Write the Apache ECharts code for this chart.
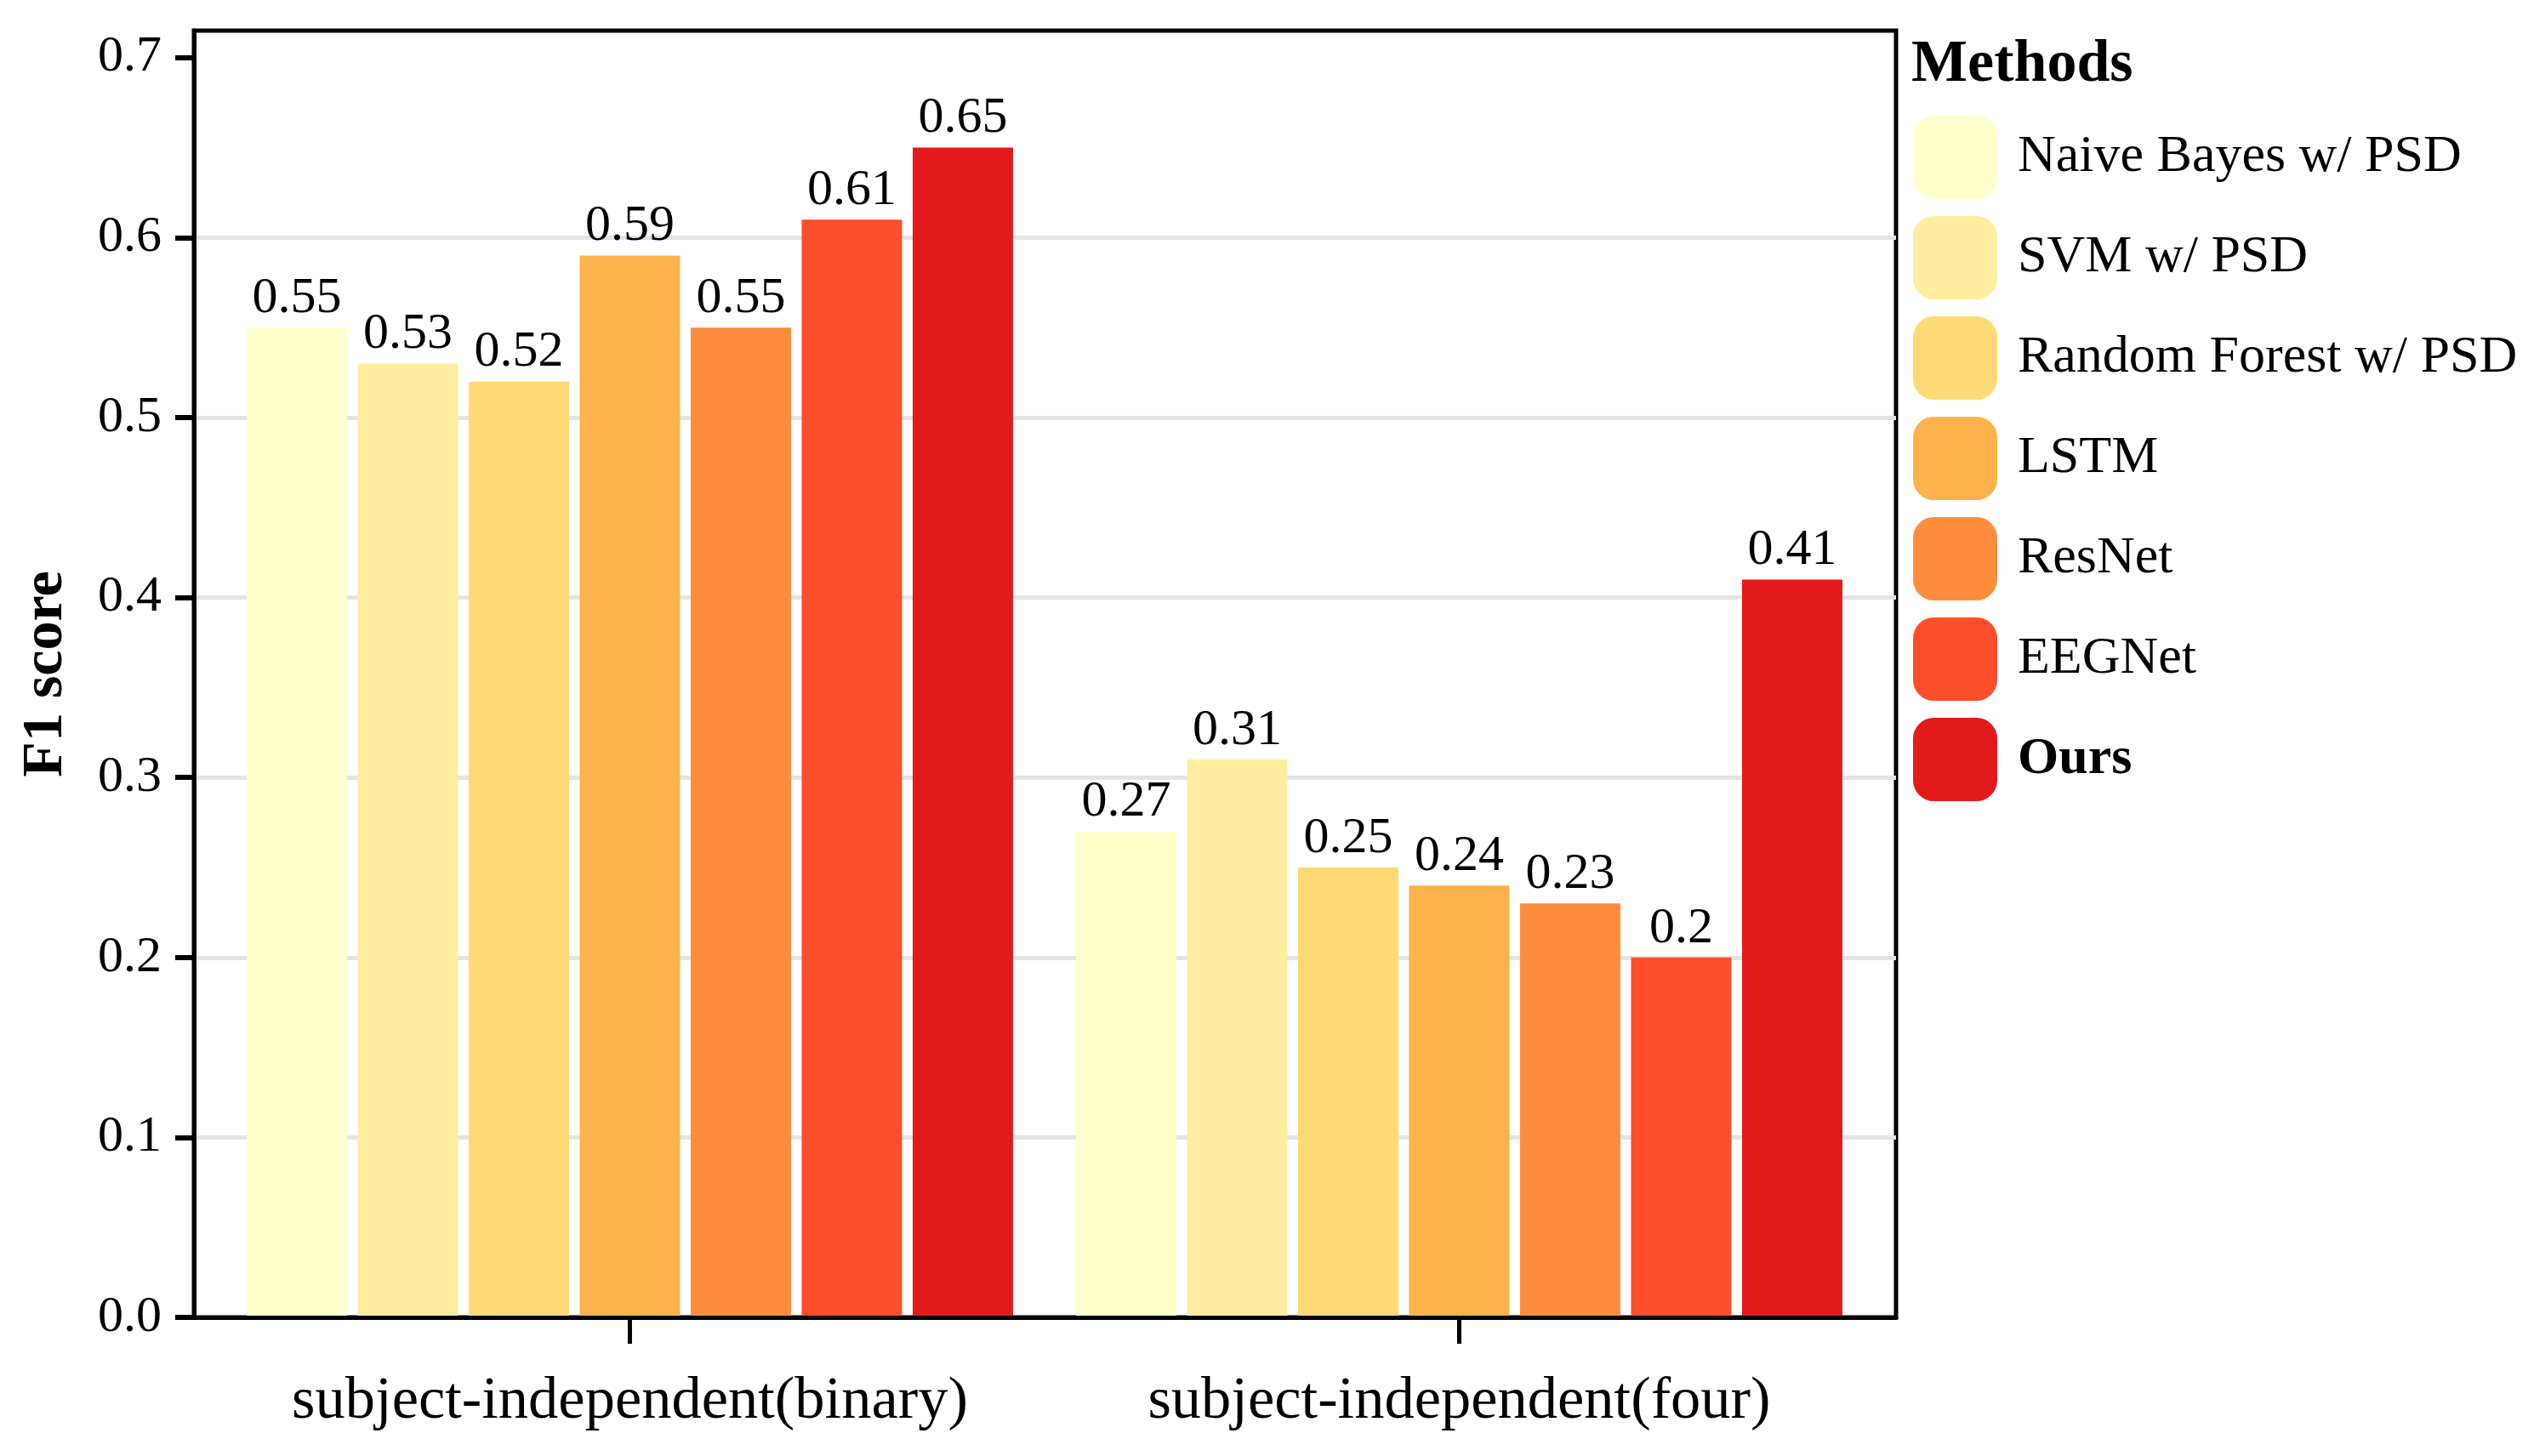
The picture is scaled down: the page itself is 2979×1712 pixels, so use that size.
<!DOCTYPE html>
<html>
<head>
<meta charset="utf-8">
<script src="https://cdn.jsdelivr.net/npm/echarts@6/dist/echarts.min.js"></script>
<style>
html,body{margin:0;padding:0;background:#fff;}
#chart{width:2979px;height:1712px;}
</style>
</head>
<body>
<div id="chart"></div>
<script>
const categories = ['subject-independent(binary)', 'subject-independent(four)'];
const methods = ['Naive Bayes w/ PSD', 'SVM w/ PSD', 'Random Forest w/ PSD', 'LSTM', 'ResNet', 'EEGNet', 'Ours'];
const binaryScores = [0.55, 0.53, 0.52, 0.59, 0.55, 0.61, 0.65];
const fourScores = [0.27, 0.31, 0.25, 0.24, 0.23, 0.20, 0.41];
const colors = ['#ffffcc', '#ffeda0', '#fed976', '#feb24c', '#fd8d3c', '#fc4e2a', '#e31a1c'];
const yTicks = [0, 0.1, 0.2, 0.3, 0.4, 0.5, 0.6, 0.7];
const yTickLabels = ['0.0', '0.1', '0.2', '0.3', '0.4', '0.5', '0.6', '0.7'];
const yMax = 0.715;

const FONT = '"Liberation Serif", "Times New Roman", serif';
const chart = echarts.init(document.getElementById('chart'), null, {renderer: 'canvas'});

const series = methods.map((m, i) => ({
  name: m,
  type: 'bar',
  xAxisIndex: 1,
  yAxisIndex: 1,
  data: [binaryScores[i], fourScores[i]],
  itemStyle: {color: colors[i]},
  barGap: '10.6%',
  barCategoryGap: '7.6%',
  label: {
    show: true,
    position: 'top',
    distance: 4,
    color: '#000',
    fontFamily: FONT,
    fontSize: 60
  },
  emphasis: {disabled: true}
}));

const TOP = 36, BOTTOM = 163;

chart.setOption({
  animation: false,
  backgroundColor: '#fff',
  color: colors,
  grid: [
    {left: 228, right: 750, top: TOP, bottom: BOTTOM,
     show: true, borderColor: '#000', borderWidth: 5, backgroundColor: 'transparent'},
    {left: 253, right: 776, top: TOP, bottom: BOTTOM, show: false}
  ],
  graphic: [{
    type: 'text',
    left: 2247,
    top: 42,
    style: {text: 'Methods', font: 'bold 70px ' + FONT, fill: '#000'}
  }],
  legend: {
    orient: 'vertical',
    left: 2244,
    top: 131,
    itemWidth: 99,
    itemHeight: 98,
    itemGap: 20,
    icon: 'roundRect',
    data: methods,
    selectedMode: false,
    formatter: n => n === 'Ours' ? '{b|' + n + '}' : '{n|' + n + '}',
    textStyle: {
      fontFamily: FONT,
      fontSize: 62,
      color: '#000',
      padding: [0, 0, 0, 19],
      rich: {
        n: {fontFamily: FONT, fontSize: 62, color: '#000'},
        b: {fontFamily: FONT, fontSize: 62, fontWeight: 'bold', color: '#000'}
      }
    }
  },
  xAxis: [
    {
      gridIndex: 0,
      type: 'value',
      min: 0, max: 1,
      z: 10,
      axisLine: {show: true, onZero: false, lineStyle: {color: '#000', width: 5}},
      axisTick: {show: false},
      axisLabel: {show: false},
      splitLine: {show: false}
    },
    {
      gridIndex: 1,
      type: 'category',
      data: categories,
      axisLine: {show: false},
      axisTick: {show: true, alignWithLabel: true, interval: 0, length: 31, lineStyle: {color: '#000', width: 5}},
      axisLabel: {fontFamily: FONT, fontSize: 70.5, color: '#000', margin: 64, interval: 0},
      splitLine: {show: false}
    }
  ],
  yAxis: [
    {
      gridIndex: 0,
      type: 'value',
      min: 0,
      max: yMax,
      interval: 0.1,
      name: 'F1 score',
      nameLocation: 'middle',
      nameRotate: 90,
      nameGap: 140,
      nameTextStyle: {fontFamily: FONT, fontSize: 68, fontWeight: 'bold', color: '#000'},
      axisLine: {show: true, lineStyle: {color: '#000', width: 5}},
      axisTick: {show: true, length: 22, lineStyle: {color: '#000', width: 6}, customValues: yTicks},
      axisLabel: {
        fontFamily: FONT, fontSize: 60, color: '#000', margin: 38,
        customValues: yTicks,
        formatter: v => {
          const idx = yTicks.findIndex(t => Math.abs(t - v) < 1e-9);
          return idx >= 0 ? yTickLabels[idx] : '';
        }
      },
      splitLine: {show: true, showMinLine: false, showMaxLine: false, lineStyle: {color: '#e4e4e4', width: 5}}
    },
    {
      gridIndex: 1,
      type: 'value',
      min: 0,
      max: yMax,
      interval: 0.1,
      axisLine: {show: false},
      axisTick: {show: false},
      axisLabel: {show: false},
      splitLine: {show: false}
    }
  ],
  series: series
});
</script>
</body>
</html>
